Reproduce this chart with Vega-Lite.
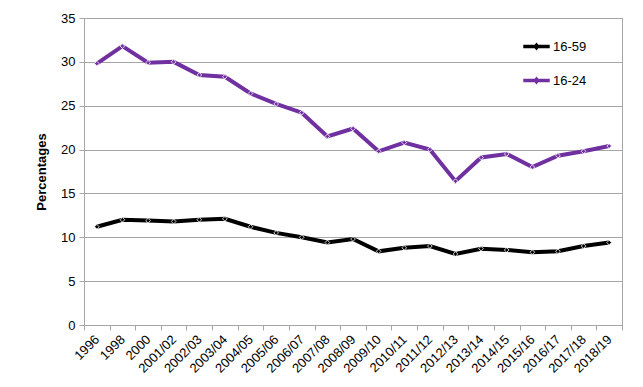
{
  "$schema": "https://vega.github.io/schema/vega-lite/v6.json",
  "autosize": {"type": "none"},
  "width": 538,
  "height": 307,
  "padding": {"left": 84, "top": 18, "right": 21, "bottom": 62},
  "background": "white",
  "config": {
    "font": "Liberation Sans",
    "view": {"stroke": "#a6a6a6", "strokeWidth": 1}
  },
  "data": {
    "values": [
      {"year": "1996", "group": "16-59", "value": 11.2},
      {"year": "1998", "group": "16-59", "value": 12.0},
      {"year": "2000", "group": "16-59", "value": 11.9},
      {"year": "2001/02", "group": "16-59", "value": 11.8},
      {"year": "2002/03", "group": "16-59", "value": 12.0},
      {"year": "2003/04", "group": "16-59", "value": 12.1},
      {"year": "2004/05", "group": "16-59", "value": 11.2},
      {"year": "2005/06", "group": "16-59", "value": 10.5},
      {"year": "2006/07", "group": "16-59", "value": 10.0},
      {"year": "2007/08", "group": "16-59", "value": 9.4},
      {"year": "2008/09", "group": "16-59", "value": 9.8},
      {"year": "2009/10", "group": "16-59", "value": 8.4},
      {"year": "2010/11", "group": "16-59", "value": 8.8},
      {"year": "2011/12", "group": "16-59", "value": 9.0},
      {"year": "2012/13", "group": "16-59", "value": 8.1},
      {"year": "2013/14", "group": "16-59", "value": 8.7},
      {"year": "2014/15", "group": "16-59", "value": 8.55},
      {"year": "2015/16", "group": "16-59", "value": 8.3},
      {"year": "2016/17", "group": "16-59", "value": 8.4},
      {"year": "2017/18", "group": "16-59", "value": 9.0},
      {"year": "2018/19", "group": "16-59", "value": 9.4},
      {"year": "1996", "group": "16-24", "value": 29.8},
      {"year": "1998", "group": "16-24", "value": 31.8},
      {"year": "2000", "group": "16-24", "value": 29.9},
      {"year": "2001/02", "group": "16-24", "value": 30.0},
      {"year": "2002/03", "group": "16-24", "value": 28.5},
      {"year": "2003/04", "group": "16-24", "value": 28.3},
      {"year": "2004/05", "group": "16-24", "value": 26.4},
      {"year": "2005/06", "group": "16-24", "value": 25.2},
      {"year": "2006/07", "group": "16-24", "value": 24.2},
      {"year": "2007/08", "group": "16-24", "value": 21.5},
      {"year": "2008/09", "group": "16-24", "value": 22.4},
      {"year": "2009/10", "group": "16-24", "value": 19.8},
      {"year": "2010/11", "group": "16-24", "value": 20.8},
      {"year": "2011/12", "group": "16-24", "value": 20.0},
      {"year": "2012/13", "group": "16-24", "value": 16.4},
      {"year": "2013/14", "group": "16-24", "value": 19.1},
      {"year": "2014/15", "group": "16-24", "value": 19.5},
      {"year": "2015/16", "group": "16-24", "value": 18.0},
      {"year": "2016/17", "group": "16-24", "value": 19.3},
      {"year": "2017/18", "group": "16-24", "value": 19.8},
      {"year": "2018/19", "group": "16-24", "value": 20.4}
    ]
  },
  "encoding": {
    "x": {
      "field": "year", "type": "ordinal", "sort": null,
      "scale": {"paddingInner": 0, "paddingOuter": 0},
      "axis": {
        "title": null, "labelAngle": -45, "labelAlign": "right", "labelBaseline": "middle",
        "labelFontSize": 13, "labelColor": "#000", "labelPadding": 7,
        "tickBand": "extent", "tickColor": "#a6a6a6", "tickSize": 5,
        "domainColor": "#a6a6a6", "grid": false
      }
    },
    "y": {
      "field": "value", "type": "quantitative",
      "scale": {"domain": [0, 35], "nice": false},
      "axis": {
        "title": "Percentages", "titleFontSize": 13, "titleFontWeight": "bold", "titleColor": "#000",
        "titlePadding": 12,
        "values": [0, 5, 10, 15, 20, 25, 30, 35],
        "labelFontSize": 13, "labelColor": "#000", "labelPadding": 4,
        "ticks": true, "tickSize": 5, "tickColor": "#a6a6a6", "domainColor": "#a6a6a6",
        "gridColor": "#a6a6a6", "gridWidth": 1
      }
    },
    "color": {
      "field": "group", "type": "nominal",
      "scale": {"domain": ["16-59", "16-24"], "range": ["#000000", "#7030A0"]},
      "legend": {
        "title": null, "orient": "none", "legendX": 439, "legendY": 15,
        "labelFontSize": 13, "labelColor": "#000", "rowPadding": 13,
        "symbolType": "M-1,-0.13H1V0.13H-1Z M0,-0.3L0.25,0L0,0.3L-0.25,0Z",
        "symbolSize": 700, "symbolStrokeWidth": 0, "labelOffset": 3
      }
    }
  },
  "layer": [
    {"mark": {"type": "line", "strokeWidth": 4}},
    {"mark": {"type": "point", "shape": "diamond", "filled": true, "size": 22, "stroke": "white", "strokeWidth": 0.8, "opacity": 1}}
  ]
}
